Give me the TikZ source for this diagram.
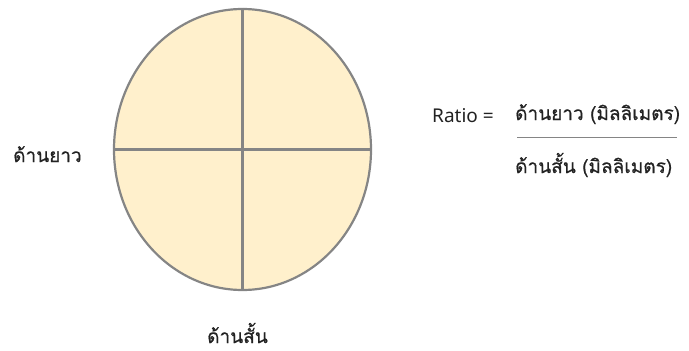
\documentclass[tikz,border=0pt]{standalone}
\usepackage{fontspec}
\setmainfont{Noto Sans}
\newfontfamily\thaifont[Script=Thai, FakeBold=0.7]{Loma}
\usetikzlibrary{shapes.geometric}
\definecolor{leaffill}{HTML}{FFF0CC}
\definecolor{leafline}{HTML}{858585}
\definecolor{txt}{HTML}{222222}

\begin{document}
\begin{tikzpicture}[x=1pt, y=-1pt,
  leaf/.style={ellipse, draw=leafline, line width=2.2pt, fill=leaffill, minimum width=257pt, minimum height=281pt, inner sep=0pt},
  axis/.style={draw=leafline, line width=2.2pt},
  lbl/.style={font=\fontsize{19}{22}\selectfont\thaifont, text=txt, inner sep=0pt, anchor=base west},
  bar/.style={draw=leafline, line width=1.8pt}
]
\useasboundingbox (0,0) rectangle (689,351);
\node[leaf] (leaf) at (242.5,149.5) {};
\draw[axis] (leaf.west) -- (leaf.east);
\draw[axis] (leaf.north) -- (leaf.south);
\node[lbl] (long) at (13,162) {ด้านยาว};
\node[lbl] (short) at (207,343) {ด้านสั้น};
\node[lbl, font=\fontsize{19}{22}\selectfont] (ratio) at (432,122) {Ratio =};
\node[lbl] (num) at (515,120) {ด้านยาว (มิลลิเมตร)};
\node[lbl] (den) at (515,173) {ด้านสั้น (มิลลิเมตร)};
\coordinate (barL) at (517,137.5);
\coordinate (barR) at (677,137.5);
\draw[bar] (barL) -- (barR);
\end{tikzpicture}
\end{document}
